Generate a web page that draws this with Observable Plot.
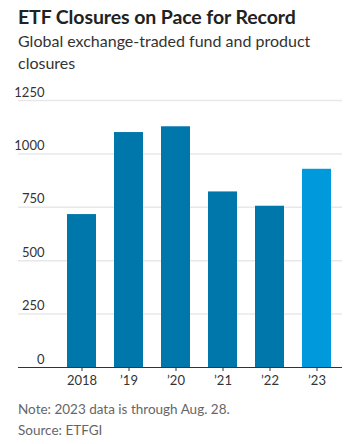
<!DOCTYPE html>
<html>
<head>
<meta charset="utf-8">
<script src="https://cdn.jsdelivr.net/npm/d3@7"></script>
<script src="https://cdn.jsdelivr.net/npm/@observablehq/plot@0.6"></script>
<style>
  html, body { margin: 0; padding: 0; background: #fff; }
  body { width: 351px; height: 444px; overflow: hidden; font-family: Lato, "Noto Sans", sans-serif; }
  #title { position: absolute; left: 18px; top: 5px; font-size: 19.5px; font-weight: 700; color: #222; letter-spacing: -0.1px; }
  #subtitle { position: absolute; left: 18px; top: 30px; width: 320px; font-size: 16px; line-height: 22px; color: #333; }
  #chart { position: absolute; left: 0; top: 80px; }
  #notes { position: absolute; left: 18px; top: 399px; font-size: 13.5px; line-height: 21px; color: #666; }
</style>
</head>
<body>
<div id="title">ETF Closures on Pace for Record</div>
<div id="subtitle">Global exchange-traded fund and product closures</div>
<div id="chart"></div>
<div id="notes">Note: 2023 data is through Aug. 28.<br>Source: ETFGI</div>
<script>
const years = ["2018", "’19", "’20", "’21", "’22", "’23"];
const closures = [716, 1100, 1127, 822, 755, 928];
const yTicks = [0, 250, 500, 750, 1000, 1250];
const highlightYear = "’23";

const data = years.map((y, i) => ({year: y, value: closures[i]}));

const chart = Plot.plot({
  width: 351,
  height: 312,
  marginLeft: 56,
  marginRight: 9,
  marginTop: 20,
  marginBottom: 25,
  style: {fontFamily: "Lato, 'Noto Sans', sans-serif", fontSize: "13px", color: "#333", background: "transparent"},
  x: {domain: years, paddingInner: 0.383, paddingOuter: 0.234, label: null},
  y: {domain: [0, 1250], label: null},
  marks: [
    Plot.ruleY(yTicks.filter(d => d > 0), {stroke: "#e8e8e8", strokeWidth: 1.5, insetLeft: -38}),
    Plot.barY(data, {
      x: "year", y: "value",
      fill: d => d.year === highlightYear ? "#0099dc" : "#0077aa"
    }),
    Plot.ruleY([0], {stroke: "#333", strokeWidth: 1, insetLeft: -38}),
    Plot.axisY({ticks: yTicks, tickSize: 0, tickPadding: 12, dy: -8, tickFormat: d => String(d), fill: "#333", fontSize: 13}),
    Plot.axisX({tickSize: 4, tickPadding: 4, stroke: "#333", fill: "#333", fontSize: 13})
  ]
});
document.getElementById("chart").appendChild(chart);
</script>
</body>
</html>
